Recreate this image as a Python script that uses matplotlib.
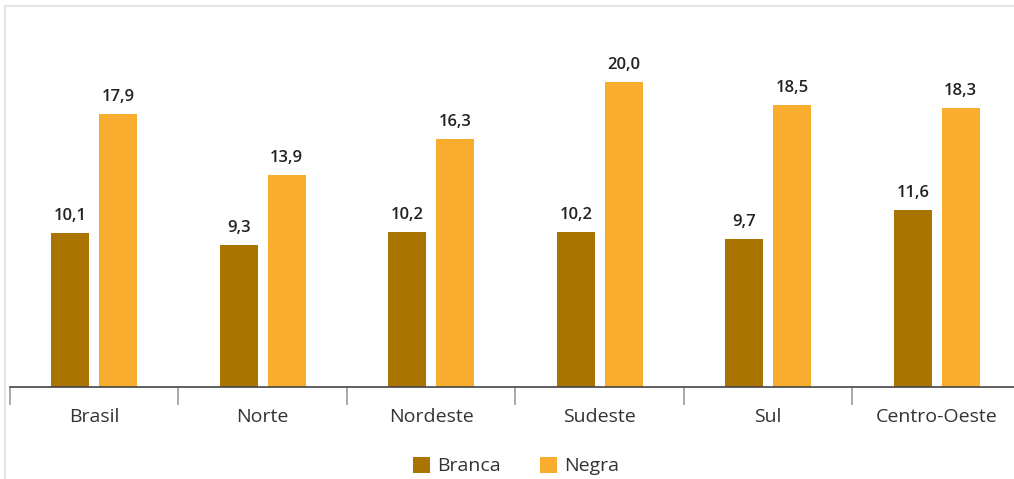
import matplotlib.pyplot as plt
from matplotlib.patches import Rectangle
import numpy as np

regioes = ["Brasil", "Norte", "Nordeste", "Sudeste", "Sul", "Centro-Oeste"]
branca = [10.1, 9.3, 10.2, 10.2, 9.7, 11.6]
negra = [17.9, 13.9, 16.3, 20.0, 18.5, 18.3]

cor_branca = "#A97500"
cor_negra = "#F8AD2F"
cor_texto = "#333333"

plt.rcParams["font.family"] = ["Open Sans", "DejaVu Sans"]

fig = plt.figure(figsize=(10.14, 4.79), dpi=100)
# moldura clara (so topo e esquerda aparecem)
fig.patches.append(Rectangle((5 / 1014, -0.1), 1.2, 1.1 - 6 / 479, transform=fig.transFigure,
                             fill=False, edgecolor="#e4e4e4", linewidth=1.5))

ax = fig.add_axes([10 / 1014, 92 / 479, 1011 / 1014, 381 / 479])
x = np.arange(len(regioes))
largura = 0.225
desloc = 0.142

b1 = ax.bar(x - desloc, branca, largura, color=cor_branca, label="Branca")
b2 = ax.bar(x + desloc, negra, largura, color=cor_negra, label="Negra")

for barras, vals in ((b1, branca), (b2, negra)):
    for bar, v in zip(barras, vals):
        ax.annotate(f"{v:.1f}".replace(".", ","),
                    (bar.get_x() + bar.get_width() / 2, bar.get_height()),
                    xytext=(0, 6.5), textcoords="offset points",
                    ha="center", va="bottom", fontsize=12, fontweight="semibold",
                    color="#222222")

ax.set_xlim(-0.5, len(regioes) - 0.5)
ax.set_ylim(0, 25)
ax.set_yticks([])
ax.set_xticks(x)
ax.set_xticklabels(regioes, fontsize=14, color=cor_texto)
ax.set_xticks(np.arange(len(regioes)) - 0.5, minor=True)
ax.tick_params(axis="x", which="major", length=0, pad=15)
ax.tick_params(axis="x", which="minor", length=13, width=1.2, color="#999999")
for s in ("top", "left", "right"):
    ax.spines[s].set_visible(False)
ax.spines["bottom"].set_color("#444444")
ax.spines["bottom"].set_linewidth(1.2)

fig.legend(handles=[b1, b2], labels=["Branca", "Negra"], loc="center",
           bbox_to_anchor=(516 / 1014, 1 - 466 / 479), ncol=2, frameon=False,
           fontsize=14, handlelength=0.9, handleheight=0.9, handletextpad=0.35,
           columnspacing=2.0, labelcolor=cor_texto)

fig.savefig("out.png", dpi=100)
